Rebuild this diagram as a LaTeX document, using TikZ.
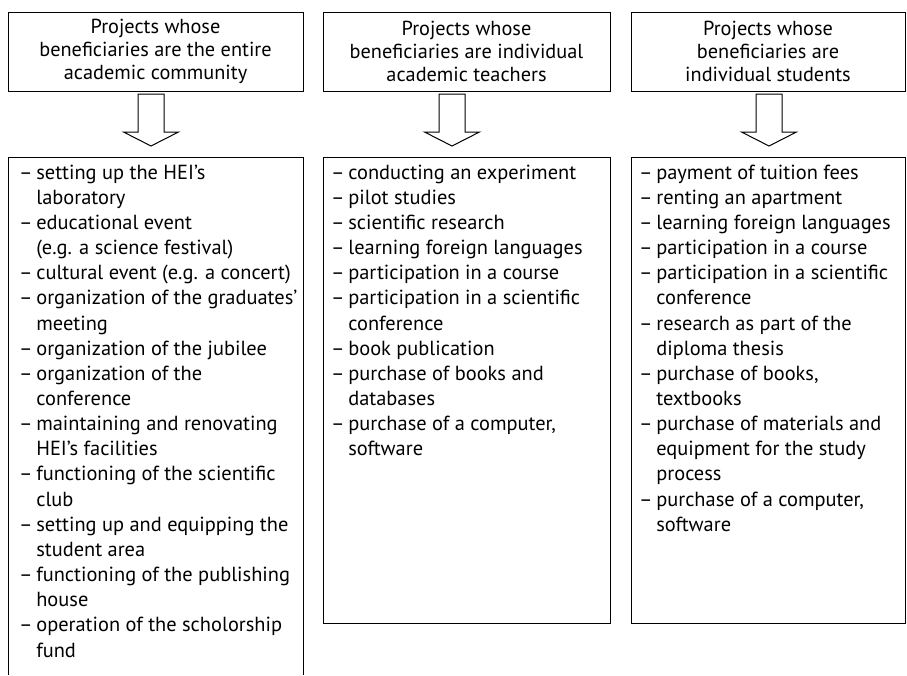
\documentclass[tikz,border=0pt]{standalone}
\usepackage{fontspec}
\setmainfont{PT Sans}
\newcommand\cont{\hphantom{–\hspace{0.18em}}}
\newcommand\dsh{–\hspace{0.18em}}
\begin{document}
\begin{tikzpicture}[x=1pt,y=-1pt,
  head/.style={draw, line width=1pt, inner sep=0pt, align=center, font=\fontsize{20.3}{23.2}\selectfont},
  listbox/.style={draw, line width=1pt},
  listtext/.style={inner sep=0pt, align=left, anchor=north west, font=\fontsize{20.4}{25.15}\selectfont},
  arrowbox/.style={draw, line width=1pt, fill=white}]
\useasboundingbox (0,0) rectangle (907,675);

% headers
\node[head, minimum width=295, minimum height=79] (h1) at (155.5,51.5)
  {Projects whose\\beneficiaries are the entire\\academic community};
\node[head, minimum width=287, minimum height=79] (h2) at (466.5,51.5)
  {Projects whose\\beneficiaries are individual\\academic teachers};
\node[head, minimum width=274, minimum height=79] (h3) at (768,51.5)
  {Projects whose\\beneficiaries are\\individual students};

% list boxes
\draw[listbox] (8,675) |- (303,157) -- (303,675);
\node[listbox, minimum width=287, minimum height=466, anchor=north, inner sep=0pt] (l2) at (466.5,157) {};
\node[listbox, minimum width=274, minimum height=466, anchor=north, inner sep=0pt] (l3) at (768,157) {};

% arrows
\coordinate (a1) at (151,94);
\coordinate (a2) at (452,94);
\coordinate (a3) at (769,94);
\foreach \a in {a1,a2,a3}{
  \draw[arrowbox] (\a) ++(-13,0) -- ++(0,38) -- ++(-14.5,0) -- ++(27.5,14)
    -- ++(27.5,-14) -- ++(-14.5,0) -- ++(0,-38) -- cycle;
}

% list texts
\node[listtext] (t1) at (19,164.5) {%
\dsh setting up the HEI’s\\
\cont laboratory\\
\dsh educational event\\
\cont (e.g. a science festival)\\
\dsh cultural event (e.g. a concert)\\
\dsh organization of the graduates’\\
\cont meeting\\
\dsh organization of the jubilee\\
\dsh organization of the\\
\cont conference\\
\dsh maintaining and renovating\\
\cont HEI’s facilities\\
\dsh functioning of the scientific\\
\cont club\\
\dsh setting up and equipping the\\
\cont student area\\
\dsh functioning of the publishing\\
\cont house\\
\dsh operation of the scholorship\\
\cont fund};

\node[listtext] (t2) at (331,164.5) {%
\dsh conducting an experiment\\
\dsh pilot studies\\
\dsh scientific research\\
\dsh learning foreign languages\\
\dsh participation in a course\\
\dsh participation in a scientific\\
\cont conference\\
\dsh book publication\\
\dsh purchase of books and\\
\cont databases\\
\dsh purchase of a computer,\\
\cont software};

\node[listtext] (t3) at (639,164.5) {%
\dsh payment of tuition fees\\
\dsh renting an apartment\\
\dsh learning foreign languages\\
\dsh participation in a course\\
\dsh participation in a scientific\\
\cont conference\\
\dsh research as part of the\\
\cont diploma thesis\\
\dsh purchase of books,\\
\cont textbooks\\
\dsh purchase of materials and\\
\cont equipment for the study\\
\cont process\\
\dsh purchase of a computer,\\
\cont software};
\end{tikzpicture}
\end{document}
